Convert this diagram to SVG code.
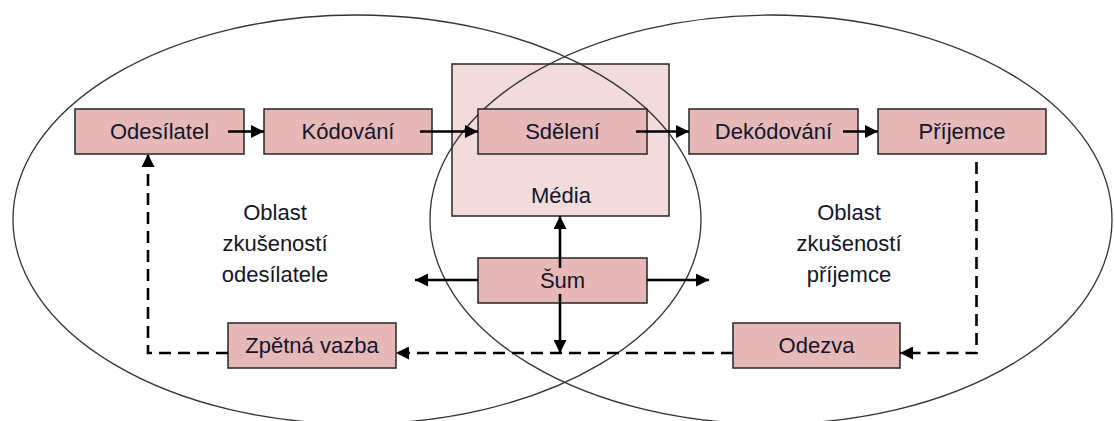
<svg xmlns="http://www.w3.org/2000/svg" width="1114" height="421" viewBox="0 0 1114 421">
<style>
.bg{fill:#ffffff}
.media{fill:#f2dcdb;stroke:#262626;stroke-width:1.5}
.box{fill:#e6b8b7;stroke:#262626;stroke-width:1.5}
.ell{fill:none;stroke:#333333;stroke-width:1.3}
.t{font-family:"Liberation Sans",Arial,sans-serif;font-size:22px;fill:#15152a;text-anchor:middle;dominant-baseline:central}
.a{fill:none;stroke:#000;stroke-width:2.6}
.d{fill:none;stroke:#000;stroke-width:2.6;stroke-dasharray:12 7}
</style>
<defs>
<marker id="ah" markerUnits="userSpaceOnUse" markerWidth="14" markerHeight="13" refX="13" refY="6.5" orient="auto">
<path d="M0,0 L13,6.5 L0,13 z" fill="#000"/>
</marker>
</defs>
<rect class="bg" x="0" y="0" width="1114" height="421"/>
<g id="media">
<rect class="media" x="452" y="64" width="217" height="152"/>
<text class="t" x="561" y="195">Média</text>
</g>
<g id="regions">
<ellipse class="ell" cx="357" cy="219.5" rx="344" ry="204.5"/>
<ellipse class="ell" cx="771" cy="219.5" rx="341" ry="204.5"/>
<text class="t" x="275" y="212">Oblast</text>
<text class="t" x="275" y="243">zkušeností</text>
<text class="t" x="275" y="274">odesílatele</text>
<text class="t" x="849" y="212">Oblast</text>
<text class="t" x="849" y="243">zkušeností</text>
<text class="t" x="849" y="274">příjemce</text>
</g>
<g id="odesilatel">
<rect class="box" x="75" y="109" width="169" height="45"/>
<text class="t" x="159.5" y="131.5">Odesílatel</text>
</g>
<g id="kodovani">
<rect class="box" x="264" y="109" width="168" height="45"/>
<text class="t" x="348" y="131.5">Kódování</text>
</g>
<g id="sdeleni">
<rect class="box" x="478" y="109" width="169" height="45"/>
<text class="t" x="562.5" y="131.5">Sdělení</text>
</g>
<g id="dekodovani">
<rect class="box" x="689" y="109" width="169" height="45"/>
<text class="t" x="773.5" y="131.5">Dekódování</text>
</g>
<g id="prijemce">
<rect class="box" x="878" y="109" width="168" height="45"/>
<text class="t" x="962" y="131.5">Příjemce</text>
</g>
<g id="sum">
<rect class="box" x="478" y="258" width="169" height="45"/>
<text class="t" x="562.5" y="280.5">Šum</text>
</g>
<g id="zpetna-vazba">
<rect class="box" x="228" y="323" width="168" height="45"/>
<text class="t" x="312" y="345.5">Zpětná vazba</text>
</g>
<g id="odezva">
<rect class="box" x="733" y="323" width="167" height="45"/>
<text class="t" x="816.5" y="345.5">Odezva</text>
</g>
<g id="connectors">
<path class="a" d="M228,131.5 H264" marker-end="url(#ah)"/>
<path class="a" d="M420,131.5 H478" marker-end="url(#ah)"/>
<path class="a" d="M636,131.5 H689" marker-end="url(#ah)"/>
<path class="a" d="M843,131.5 H878" marker-end="url(#ah)"/>
<path class="a" d="M560,268 V216" marker-end="url(#ah)"/>
<path class="a" d="M478,280 H415" marker-end="url(#ah)"/>
<path class="a" d="M647,280 H709" marker-end="url(#ah)"/>
<path class="a" d="M560,294 V353" marker-end="url(#ah)"/>
<path class="d" d="M976.5,162 V353 H900" marker-end="url(#ah)"/>
<path class="d" d="M733,353 H396" marker-end="url(#ah)"/>
<path class="d" d="M228,353 H148 V154" marker-end="url(#ah)"/>
</g>
</svg>
